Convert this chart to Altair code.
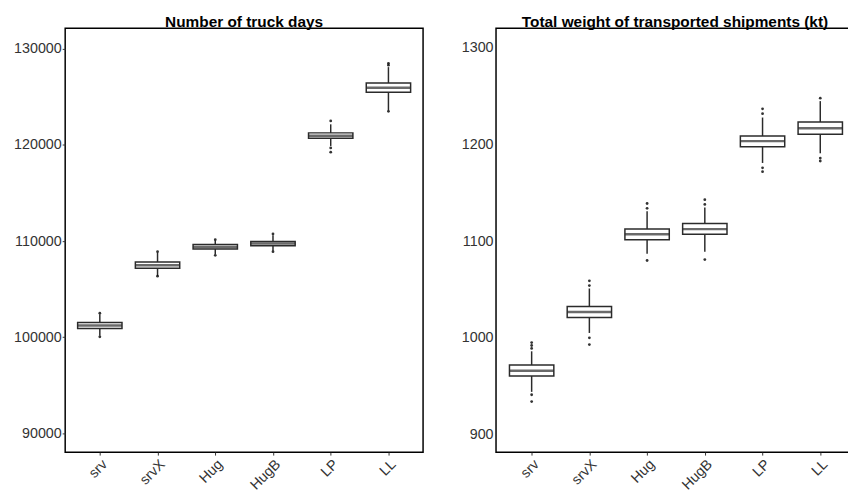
import altair as alt
import pandas as pd

cats = ["srv", "srvX", "Hug", "HugB", "LP", "LL"]

# Panel 1: Number of truck days
days_wlo = [100150, 106400, 108650, 109000, 119900, 123600]
days_q1 = [100920, 107180, 109180, 109530, 120700, 125480]
days_med = [101230, 107490, 109400, 109760, 120970, 125950]
days_q3 = [101540, 107830, 109640, 109970, 121260, 126450]
days_whi = [102400, 108800, 110050, 110600, 122150, 128100]
days_out_cat = ["srv", "srv", "srvX", "srvX", "Hug", "Hug", "HugB", "HugB",
                "LP", "LP", "LP", "LL", "LL", "LL"]
days_out_val = [102500, 100050, 108900, 106350, 110150, 108520, 110750, 108900,
                122500, 119250, 119700, 128300, 128500, 123500]

# Panel 2: Total weight of transported shipments (kt)
wt_wlo = [944, 1005, 1087, 1089, 1181, 1191]
wt_q1 = [960.4, 1021.1, 1101.6, 1107.1, 1197.8, 1210.7]
wt_med = [965.9, 1026.6, 1107.1, 1112.5, 1203.6, 1216.9]
wt_q3 = [971.7, 1032.4, 1112.5, 1118.4, 1209.0, 1223.3]
wt_whi = [986, 1051, 1131, 1135, 1228, 1245]
wt_out_cat = ["srv", "srv", "srv", "srv", "srv", "srvX", "srvX", "srvX", "srvX",
              "Hug", "Hug", "Hug", "HugB", "HugB", "HugB", "LP", "LP", "LP", "LP",
              "LL", "LL", "LL"]
wt_out_val = [989, 992, 995, 941, 934, 1054, 1059, 1000, 993,
              1134, 1139, 1080, 1138, 1143, 1081, 1232, 1237, 1176, 1172,
              1248, 1186, 1183]

days_ticks = [90000, 100000, 110000, 120000, 130000]
wt_ticks = [900, 1000, 1100, 1200, 1300]

LW = 1.5
BOXC = "#2b2b2b"


def panel(wlo, q1, med, q3, whi, out_cat, out_val, title, domain, ticks, ytick, ypad, rng):
    df = pd.DataFrame({"cat": cats, "wlo": wlo, "q1": q1, "med": med, "q3": q3, "whi": whi})
    odf = pd.DataFrame({"cat": out_cat, "val": out_val})
    x = alt.X("cat:N", sort=cats,
              scale=alt.Scale(type="point", padding=0.6, range=rng),
              axis=alt.Axis(title=None, labelAngle=-45, labelAlign="right",
                            labelBaseline="top", tickSize=3, labelPadding=2))
    ysc = alt.Scale(domain=domain, nice=False, zero=False)
    whisk = alt.Chart(df).mark_rule(color=BOXC, strokeWidth=LW).encode(
        x=x,
        y=alt.Y("wlo:Q", scale=ysc,
                axis=alt.Axis(title=None, values=ticks, format="d", tickSize=ytick,
                              labelPadding=ypad)),
        y2="whi:Q")
    box = alt.Chart(df).mark_bar(size=45, fill="white", stroke=BOXC, strokeWidth=LW).encode(
        x=x, y="q1:Q", y2="q3:Q")
    medm = alt.Chart(df).mark_tick(size=45, thickness=2.5, color=BOXC).encode(
        x=x, y="med:Q")
    pts = alt.Chart(odf).mark_circle(size=8, color="black", opacity=0.8).encode(
        x=x, y="val:Q")
    return alt.layer(whisk, box, medm, pts).properties(
        width=363, height=430,
        title=alt.TitleParams(title, fontSize=15.6, fontWeight="bold", font="Liberation Sans",
                              color="black", offset=-2))


left = panel(days_wlo, days_q1, days_med, days_q3, days_whi, days_out_cat, days_out_val,
             "Number of truck days", [88050, 132150], days_ticks, 3, 1, [0, 363])
right = panel(wt_wlo, wt_q1, wt_med, wt_q3, wt_whi, wt_out_cat, wt_out_val,
              "Total weight of transported shipments (kt)", [881.6, 1320.5], wt_ticks, 0, 3, [1, 364])

chart = alt.hconcat(left, right, spacing=36).properties(
    padding={"left": 4, "top": 2, "right": -7, "bottom": 0}
).configure_view(stroke="black", strokeWidth=LW).configure_axis(
    grid=False, domain=False, labelFont="Liberation Sans", labelFontSize=14.5,
    labelColor="#333333", tickColor="#333333"
)

chart.save("out.html", embed_options={"renderer": "svg", "actions": False})
